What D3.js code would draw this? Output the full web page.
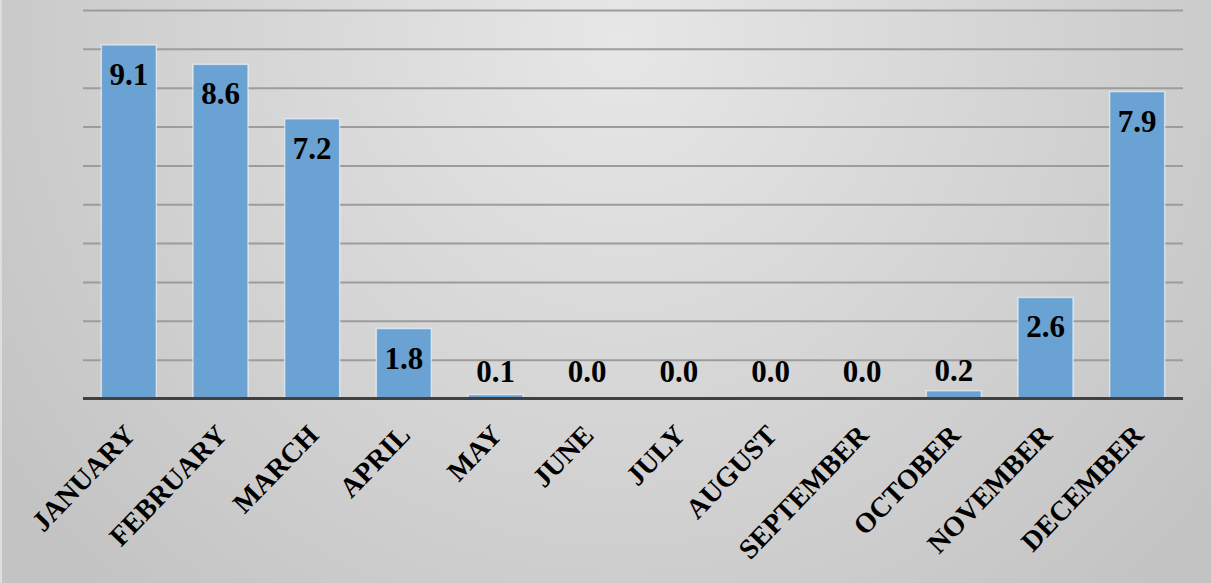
<!DOCTYPE html>
<html>
<head>
<meta charset="utf-8">
<script src="https://cdn.jsdelivr.net/npm/d3@7"></script>
<style>
  html, body { margin: 0; padding: 0; background: #fff; }
  svg { display: block; }
  .lbl { font-family: "Liberation Serif", "Times New Roman", serif; font-weight: bold; }
</style>
</head>
<body>
<div id="chart"></div>
<script>
  // chart data
  var months = ["JANUARY", "FEBRUARY", "MARCH", "APRIL", "MAY", "JUNE", "JULY",
                "AUGUST", "SEPTEMBER", "OCTOBER", "NOVEMBER", "DECEMBER"];
  var values = [9.1, 8.6, 7.2, 1.8, 0.1, 0.0, 0.0, 0.0, 0.0, 0.2, 2.6, 7.9];
  var yTicks = [1, 2, 3, 4, 5, 6, 7, 8, 9, 10];

  var width = 1211, height = 583;
  var margin = { top: 10, right: 28, bottom: 184.5, left: 83 };
  var innerW = width - margin.left - margin.right;
  var innerH = height - margin.top - margin.bottom;

  var svg = d3.select("#chart").append("svg")
    .attr("width", width)
    .attr("height", height);

  // background gradient
  var defs = svg.append("defs");
  var grad = defs.append("radialGradient")
    .attr("id", "bg")
    .attr("gradientUnits", "userSpaceOnUse")
    .attr("cx", 620).attr("cy", 40).attr("r", 760);
  grad.append("stop").attr("offset", "0%").attr("stop-color", "#e7e7e7");
  grad.append("stop").attr("offset", "100%").attr("stop-color", "#c3c3c3");

  svg.append("rect")
    .attr("width", width).attr("height", height)
    .attr("fill", "url(#bg)");

  // thin light edge on the left, like the chart frame
  svg.append("rect")
    .attr("width", 2).attr("height", height)
    .attr("fill", "#dedede");

  var g = svg.append("g")
    .attr("transform", "translate(" + margin.left + "," + margin.top + ")");

  var x = d3.scaleBand()
    .domain(months)
    .range([0, innerW])
    .paddingInner(0.4)
    .paddingOuter(0.2);

  var y = d3.scaleLinear()
    .domain([0, 10])
    .range([innerH, 0]);

  // gridlines
  var grid = g.append("g")
    .call(d3.axisLeft(y).tickValues(yTicks).tickSize(-innerW).tickFormat(""));
  grid.select(".domain").remove();
  grid.selectAll(".tick line")
    .attr("stroke", "#9c9c9c")
    .attr("stroke-width", 2);

  // bars
  g.selectAll("rect.bar")
    .data(values)
    .enter()
    .append("rect")
    .classed("bar", true)
    .attr("x", function(d, i) { return x(months[i]); })
    .attr("width", x.bandwidth())
    .attr("y", function(d) { return y(d); })
    .attr("height", function(d) { return innerH - y(d); })
    .attr("fill", "#6aa2d4")
    .attr("stroke", "rgba(255,255,255,0.55)")
    .attr("stroke-width", 1.5);

  // value labels - inside end for tall bars, above for short ones
  g.selectAll("text.val")
    .data(values)
    .enter()
    .append("text")
    .attr("class", "val lbl")
    .attr("x", function(d, i) { return x(months[i]) + x.bandwidth() / 2; })
    .attr("y", function(d) {
      if (d >= 1) return y(d) + 40;
      return Math.min(y(d) - 10, y(0) - 17);
    })
    .attr("text-anchor", "middle")
    .style("font-size", "31px")
    .attr("fill", "#000")
    .text(function(d) { return d.toFixed(1); });

  // x axis
  var xAxis = g.append("g")
    .attr("transform", "translate(0," + innerH + ")")
    .call(d3.axisBottom(x).tickSize(0).tickPadding(0));
  xAxis.select(".domain").remove();
  xAxis.selectAll("text")
    .attr("class", "lbl")
    .attr("transform", "translate(8,38) rotate(-46)")
    .attr("y", 0)
    .attr("dy", 0)
    .attr("text-anchor", "end")
    .style("font-size", "28px")
    .attr("fill", "#000");

  // baseline
  g.append("line")
    .attr("x1", 0).attr("x2", innerW)
    .attr("y1", y(0)).attr("y2", y(0))
    .attr("stroke", "#404040")
    .attr("stroke-width", 3);
</script>
</body>
</html>
